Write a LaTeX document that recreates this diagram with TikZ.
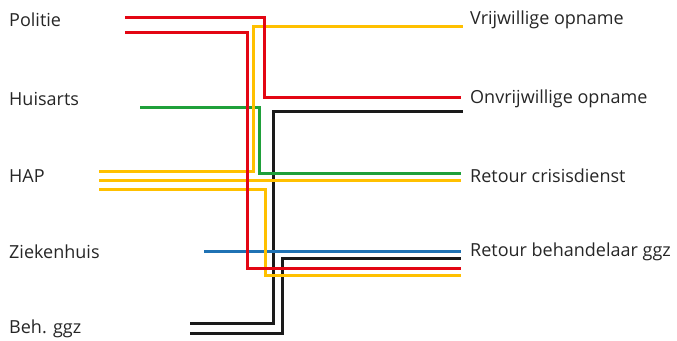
\documentclass[tikz,border=0pt]{standalone}
\usepackage{fontspec}
\setmainfont{Open Sans}
\definecolor{cred}{HTML}{E30613}
\definecolor{cyel}{HTML}{FFC000}
\definecolor{cgrn}{HTML}{1FA03A}
\definecolor{cblu}{HTML}{1F72B4}
\definecolor{cblk}{HTML}{1A1A1A}
\begin{document}
\begin{tikzpicture}[x=1pt,y=-1pt,
  route/.style={line width=2.8pt},
  lbl/.style={anchor=west,inner sep=0pt,font=\fontsize{18}{21}\selectfont,text=black!85}]
\useasboundingbox (0,0) rectangle (677,340);
% labels
\node[lbl] (pol) at (9,20) {Politie};
\node[lbl] (hui) at (9,99) {Huisarts};
\node[lbl] (hap) at (9,176) {HAP};
\node[lbl] (zie) at (9,252) {Ziekenhuis};
\node[lbl] (beh) at (9,329) {Beh. ggz};
\node[lbl] (vri) at (470,20) {Vrijwillige opname};
\node[lbl] (onv) at (470,99) {Onvrijwillige opname};
\node[lbl] (ret) at (470,176) {Retour crisisdienst};
\node[lbl] (rbg) at (470,252) {Retour behandelaar ggz};
% coordinates
\coordinate (r1s) at (125,17.5);  \coordinate (r1e) at (461,97.5);
\coordinate (r2s) at (125,32.5);  \coordinate (r2e) at (461,268.5);
\coordinate (y1s) at (99,171.5);  \coordinate (y1e) at (463,26.5);
\coordinate (y2s) at (99,180.5);  \coordinate (y2e) at (461,180.5);
\coordinate (y3s) at (99,189.5);  \coordinate (y3e) at (461,275.5);
\coordinate (gs) at (140,107.5);  \coordinate (ge) at (461,173.5);
\coordinate (bls) at (204,251.5); \coordinate (ble) at (461,251.5);
\coordinate (k1s) at (190,323.5); \coordinate (k1e) at (463,111.5);
\coordinate (k2s) at (190,333.5); \coordinate (k2e) at (461,258.5);
% routes
\draw[route,cblk] (k1s) -| (273.5,111.5) -- (k1e);
\draw[route,cblk] (k2s) -| (282.5,258.5) -- (k2e);
\draw[route,cblu] (bls) -- (ble);
\draw[route,cgrn] (gs) -| (259.5,173.5) -- (ge);
\draw[route,cyel] (y1s) -| (253.5,26.5) -- (y1e);
\draw[route,cyel] (y2s) -- (y2e);
\draw[route,cyel] (y3s) -| (265.5,275.5) -- (y3e);
\draw[route,cred] (r1s) -| (264.5,97.5) -- (r1e);
\draw[route,cred] (r2s) -| (247.5,268.5) -- (r2e);
\end{tikzpicture}
\end{document}
